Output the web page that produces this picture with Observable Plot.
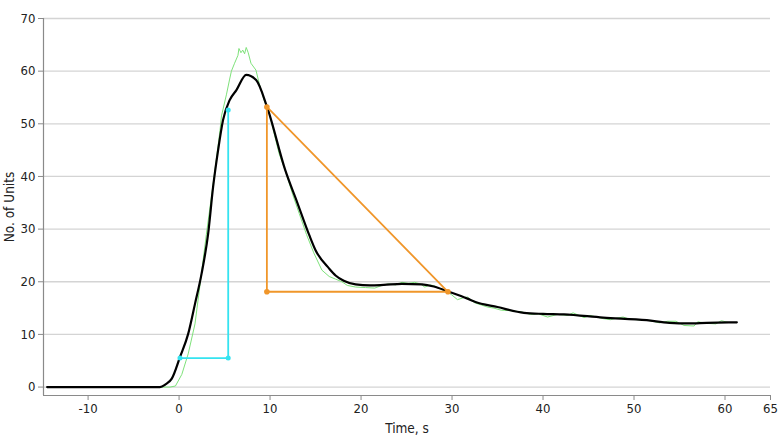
<!DOCTYPE html>
<html>
<head>
<meta charset="utf-8">
<script src="https://cdn.jsdelivr.net/npm/d3@7"></script>
<script src="https://cdn.jsdelivr.net/npm/@observablehq/plot@0.6"></script>
<style>
  html, body { margin: 0; padding: 0; background: #fff; }
  #chart svg { display: block; }
</style>
</head>
<body>
<div id="chart"></div>
<script>
// Smoothed (black) curve
const smoothTime = [-14.5, -2.1, -1.5, -0.8, 0.1, 1.0, 1.75, 2.47, 3.2, 3.74, 4.29, 4.83, 5.56, 6.3, 7.38, 8.47, 9.67, 11.67, 13, 14.3, 15, 16.5, 17.2, 18.1, 19.4, 21, 22.5, 24.5, 26.7, 28, 29.5, 31.7, 32.5, 35, 37.9, 40, 42.3, 46.6, 51.4, 53.9, 56, 58, 61.3];
const smoothUnits = [0, 0, 0.5, 1.6, 5.7, 10.1, 15.8, 21.5, 29.2, 38, 45, 50.7, 54.5, 56.4, 59.3, 58.3, 53.2, 41.2, 35, 28.9, 26, 22.5, 21.2, 20.2, 19.5, 19.3, 19.4, 19.6, 19.5, 19.1, 18.2, 16.8, 16.2, 15.2, 14.1, 13.9, 13.8, 13.2, 12.7, 12.2, 12.1, 12.2, 12.3];

// Raw (green) trace
const rawTime = [-2, -1, -0.4, 0.3, 1, 1.75, 2.3, 3.0, 3.7, 4.3, 4.5, 4.66, 5.2, 5.56, 5.75, 6.1, 6.47, 6.58, 6.8, 7.0, 7.2, 7.38, 7.6, 7.9, 8.45, 8.8, 9.35, 9.9, 11, 11.7, 12.5, 13.2, 14, 14.8, 15.7, 16.5, 17.2, 17.9, 18.5, 19.4, 20.5, 21.5, 22.3, 23, 23.8, 24.5, 25.2, 25.9, 26.5, 27, 27.6, 28.1, 28.6, 29.2, 29.9, 30.6, 31.3, 31.7, 32.5, 33.2, 33.9, 34.6, 35.4, 36.5, 37.6, 38.6, 39.5, 40.5, 41.6, 42.7, 43.3, 44.5, 45.2, 45.9, 46.6, 47.4, 48.1, 48.8, 49.5, 50.3, 51.5, 52.3, 52.8, 53.7, 54.6, 55.5, 56.6, 57, 58, 59, 59.6, 60.3];
const rawUnits = [0, 0, 0.2, 2.4, 6.3, 12, 19.4, 29, 38, 46, 48.8, 51.5, 55.5, 58.5, 60, 61.5, 63, 64.3, 63.5, 64, 63.3, 64.5, 63.5, 61.5, 60.2, 57.7, 54.5, 52, 44.3, 41, 36.5, 33, 29, 25.5, 22.2, 21, 20.5, 20, 19.3, 19, 18.9, 18.8, 19.3, 19.6, 19.4, 19.9, 19.7, 19.9, 19.6, 19, 19.4, 19.2, 18.7, 18.3, 17.6, 16.6, 17, 17.1, 16, 15.6, 15.2, 15.0, 14.6, 14.5, 14.3, 13.8, 13.9, 13.3, 13.8, 13.6, 14.1, 13.2, 13.6, 13.3, 13.0, 12.8, 13.1, 13.3, 12.9, 12.8, 12.7, 12.4, 12.2, 12.5, 12.5, 11.7, 11.6, 12.4, 12.1, 12.0, 12.6, 12.3];

// Cyan marker (rise)
const cyanTime = [0.1, 5.4, 5.4];
const cyanUnits = [5.5, 5.5, 52.6];

// Orange triangle (decay)
const orangeTime = [9.65, 9.65, 29.55, 9.65];
const orangeUnits = [53.2, 18.1, 18.1, 53.2];

const xTicks = [-10, 0, 10, 20, 30, 40, 50, 60, 65];
const yTicks = [0, 10, 20, 30, 40, 50, 60, 70];

const smooth = smoothTime.map((t, i) => ({t, v: smoothUnits[i]}));
const raw = rawTime.map((t, i) => ({t, v: rawUnits[i]}));
const cyan = cyanTime.map((t, i) => ({t, v: cyanUnits[i]}));
const orange = orangeTime.map((t, i) => ({t, v: orangeUnits[i]}));

const xMin = -14.9, yMin = -1.6;
const axisColor = "#8a8a8a";
const fmt = d => String(d);

const chart = Plot.plot({
  width: 780,
  height: 445,
  marginLeft: 43,
  marginRight: 10,
  marginTop: 18,
  marginBottom: 50,
  style: {fontFamily: "'DejaVu Sans Condensed', 'DejaVu Sans', sans-serif", fontSize: "13px", color: "#222", background: "#fff"},
  x: {domain: [xMin, 65]},
  y: {domain: [yMin, 70]},
  marks: [
    Plot.gridY(yTicks, {stroke: "#d4d4d4", strokeOpacity: 1, strokeWidth: 1.3}),
    Plot.axisX(xTicks, {tickSize: 5, tickPadding: 3, tickFormat: fmt, stroke: axisColor, fill: "#222", label: null, fontSize: 13}),
    Plot.axisY(yTicks, {tickSize: 5, tickPadding: 3, tickFormat: fmt, stroke: axisColor, fill: "#222", label: null, fontSize: 13}),
    Plot.axisX({ticks: [], label: "Time, s", labelAnchor: "center", labelArrow: "none", labelOffset: 37, fontSize: 13.5, fill: "#222"}),
    Plot.axisY({ticks: [], label: "No. of Units", labelAnchor: "center", labelArrow: "none", labelOffset: 39, fontSize: 13.5, fill: "#222"}),
    Plot.ruleX([xMin], {stroke: axisColor, strokeWidth: 1.2}),
    Plot.ruleY([yMin], {stroke: axisColor, strokeWidth: 1.2}),
    Plot.line(raw, {x: "t", y: "v", stroke: "#7ee27a", strokeWidth: 1}),
    Plot.line(smooth, {x: "t", y: "v", stroke: "#000", strokeWidth: 2.2, curve: "monotone-x"}),
    Plot.line(cyan, {x: "t", y: "v", stroke: "#35e3f0", strokeWidth: 1.8}),
    Plot.dot(cyan, {x: "t", y: "v", fill: "#35e3f0", r: 2.5}),
    Plot.line(orange, {x: "t", y: "v", stroke: "#f0962a", strokeWidth: 1.8}),
    Plot.dot(orange.slice(0, 3), {x: "t", y: "v", fill: "#f0962a", r: 2.8})
  ]
});
document.getElementById("chart").appendChild(chart);
</script>
</body>
</html>
